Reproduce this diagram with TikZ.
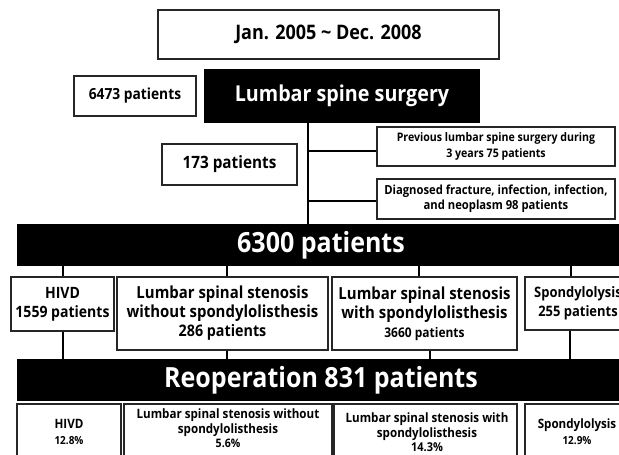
\documentclass[tikz,border=0pt]{standalone}
\usepackage{fontspec}
\setmainfont{Open Sans}[FakeStretch=0.9]
\tikzset{
  box/.style={draw=black!85, line width=1.2pt, fill=white, inner sep=0pt, align=center},
  bar/.style={fill=black, text=white, inner sep=0pt, align=center},
  txt/.style={inner sep=0pt, align=center},
  conn/.style={line width=1.8pt, draw=black},
  sz/.style 2 args={font=\fontsize{#1}{#2}\selectfont\bfseries},
}
\begin{document}
\begin{tikzpicture}[x=1pt,y=-1pt]
\useasboundingbox (0,0) rectangle (619,455);
\clip (0,0) rectangle (619,455);
% top
\node[box, sz={20}{24}, minimum width=341, minimum height=49] (title) at (328.5,34.5) {Jan. 2005 \textasciitilde{} Dec. 2008};
\node[bar, sz={21.9}{26}, minimum width=276, minimum height=54] (surgery) at (342,96) {Lumbar spine surgery};
\node[box, sz={15.3}{18}, minimum width=122, minimum height=40] (n6473) at (135,96) {6473 patients};
\node[box, sz={17}{20}, minimum width=135, minimum height=41] (n173) at (229.5,164.5) {173 patients};
\node[box, sz={11.8}{16}, minimum width=238, minimum height=39] (prev) at (496,146.5) {Previous lumbar spine surgery during\\3 years 75 patients};
\node[box, sz={12.5}{15}, minimum width=238, minimum height=40] (diag) at (496,199) {Diagnosed fracture, infection, infection,\\and neoplasm 98 patients};
\node[bar, sz={27.8}{32}, minimum width=608, minimum height=42] (bar6300) at (321,245) {6300 patients};
% row 1
\node[box, sz={15.6}{19}, minimum width=103, minimum height=54] (hivdA) at (62.5,304) {HIVD\\1559 patients};
\node[box, sz={16.6}{19}, minimum width=211, minimum height=73] (lssnoA) at (222.5,313.5) {Lumbar spinal stenosis\\without spondylolisthesis\\{\fontsize{15.9}{19}\selectfont 286 patients}};
\node[box, sz={16.6}{19}, minimum width=185, minimum height=73] (lssyesA) at (424.5,313.5) {Lumbar spinal stenosis\\with spondylolisthesis\\{\fontsize{13.3}{19}\selectfont 3660 patients}};
\node[box, sz={14.4}{19}, minimum width=106, minimum height=53] (spondA) at (578,303.5) {Spondylolysis\\255 patients};
\node[bar, sz={27.8}{32}, minimum width=608, minimum height=42] (bar831) at (321,380) {Reoperation 831 patients};
% row 2 boxes
\node[box, minimum width=104, minimum height=70] (hivdB) at (69,439) {};
\node[box, minimum width=208, minimum height=70] (lssnoB) at (228,439) {};
\node[box, minimum width=183, minimum height=70] (lssyesB) at (425.5,439) {};
\node[box, minimum width=106, minimum height=70] (spondB) at (578,439) {};
\node[txt, sz={12.9}{16}] (hivdBt) at (69,432) {HIVD\\{\fontsize{11.1}{16}\selectfont 12.8\%}};
\node[txt, sz={12.9}{14.5}] (lssnoBt) at (228,428.5) {Lumbar spinal stenosis without\\spondylolisthesis\\{\fontsize{11.7}{14.5}\selectfont 5.6\%}};
\node[txt, sz={12.9}{14.5}] (lssyesBt) at (427,432.5) {Lumbar spinal stenosis with\\spondylolisthesis\\{\fontsize{12.2}{14.5}\selectfont 14.3\%}};
\node[txt, sz={12.9}{16}] (spondBt) at (577,432) {Spondylolysis\\{\fontsize{11.1}{16}\selectfont 12.9\%}};
% connectors
\coordinate (sx) at (308,0);
\coordinate (br1) at (308,151);
\coordinate (br2) at (308,201);
\draw[conn] (sx |- surgery.south) -- (sx |- bar6300.north);
\draw[conn] (br1) -- (br1 -| prev.west);
\draw[conn] (br2) -- (br2 -| diag.west);
\coordinate (u1) at (63,0);
\coordinate (u2) at (227,0);
\coordinate (u3) at (419,0);
\coordinate (u4) at (571,0);
\coordinate (d1) at (63,0);
\coordinate (d2) at (227,0);
\coordinate (d3) at (430,0);
\coordinate (d4) at (570,0);
\draw[conn] (u1 |- bar6300.south) -- (u1 |- hivdA.north);
\draw[conn] (u2 |- bar6300.south) -- (u2 |- lssnoA.north);
\draw[conn] (u3 |- bar6300.south) -- (u3 |- lssyesA.north);
\draw[conn] (u4 |- bar6300.south) -- (u4 |- spondA.north);
\draw[conn] (d1 |- hivdA.south) -- (d1 |- bar831.north);
\draw[conn] (d2 |- lssnoA.south) -- (d2 |- bar831.north);
\draw[conn] (d3 |- lssyesA.south) -- (d3 |- bar831.north);
\draw[conn] (d4 |- spondA.south) -- (d4 |- bar831.north);
\end{tikzpicture}
\end{document}
